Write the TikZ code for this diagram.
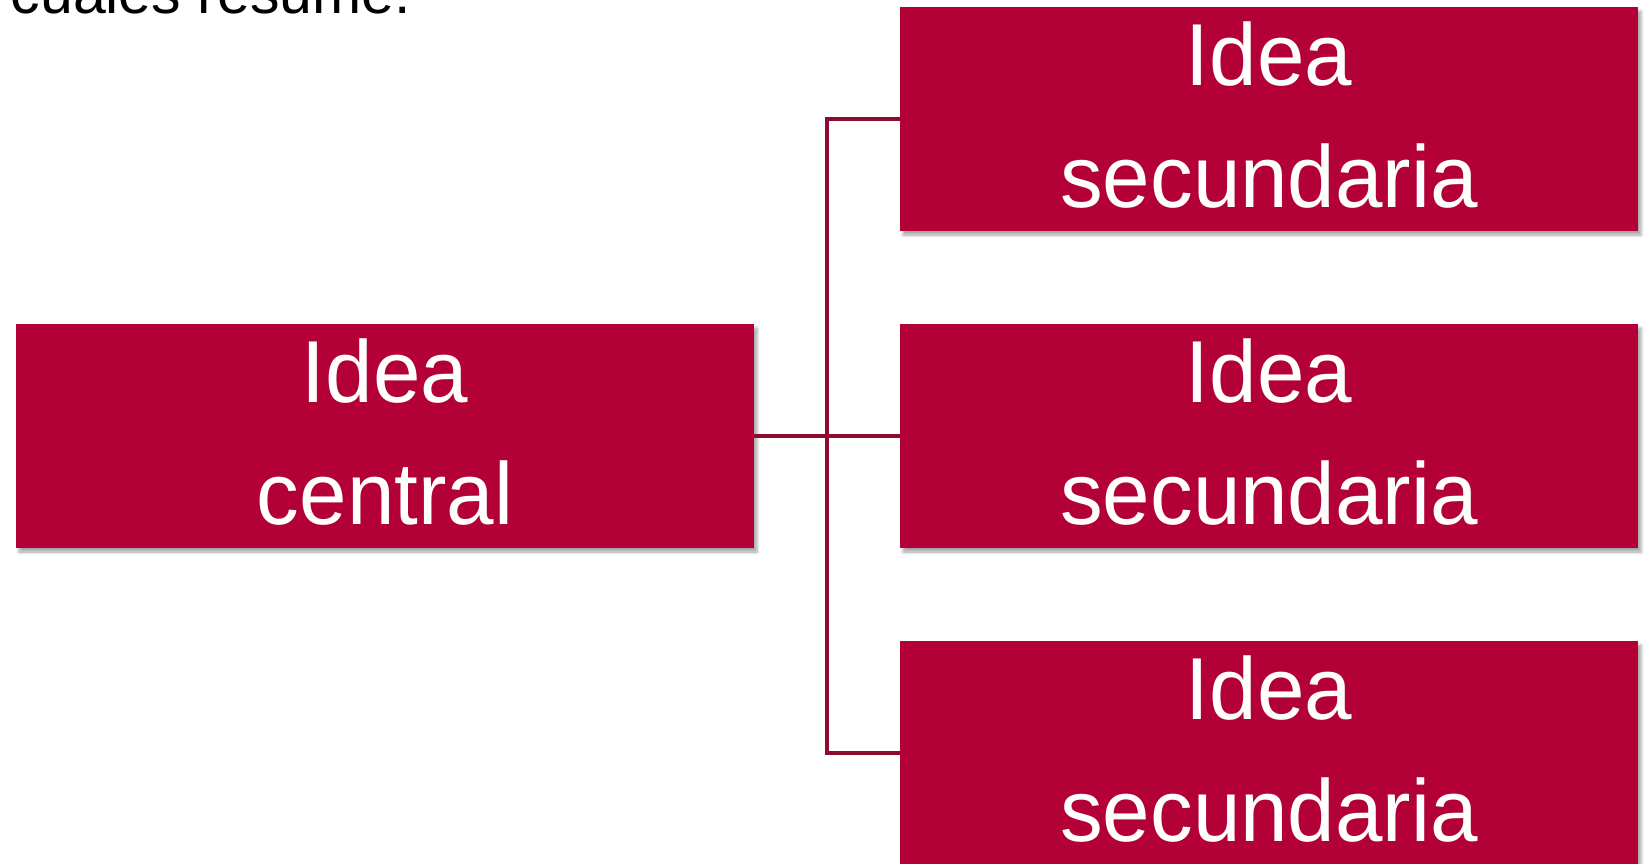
\documentclass[tikz,border=0pt]{standalone}
\usepackage{fontspec}
\setmainfont{Liberation Sans}
\newfontfamily\boxfont[FakeStretch=0.97]{Liberation Sans}
\usetikzlibrary{shadows.blur}
\definecolor{boxred}{HTML}{B30036}
\definecolor{linered}{HTML}{8E0A2F}
\tikzset{
  ideabox/.style={rectangle, fill=boxred, draw=none, minimum width=738pt, minimum height=224pt, inner sep=0pt,
    blur shadow={shadow xshift=3pt, shadow yshift=-4pt, shadow blur radius=3pt, shadow opacity=35}},
  ideatext/.style={text=white, align=center, inner sep=0pt, font=\boxfont\fontsize{88}{122}\selectfont},
  link/.style={draw=linered, line width=4pt, line join=miter}
}
\begin{document}
\begin{tikzpicture}[x=1pt,y=-1pt]
\useasboundingbox (0,0) rectangle (1647,863);
\clip (0,0) rectangle (1647,863);
\node[anchor=base west, inner sep=0pt, font=\fontsize{59}{70}\selectfont] (hdr) at (10.5,13.5) {cuales resume.};
\coordinate (j) at (827,436);
\node[ideabox] (c) at (385,436) {};
\node[ideabox] (t) at (1269,119) {};
\node[ideabox] (m) at (1269,436) {};
\node[ideabox] (b) at (1269,753) {};
\draw[link] (c.east) -- (j);
\draw[link] (j) |- (t.west);
\draw[link] (j) -- (m.west);
\draw[link] (j) |- (b.west);
\node[ideatext] (ct) at ([yshift=3.5pt]c.center) {Idea\\central};
\node[ideatext] (tt) at ([yshift=3.5pt]t.center) {Idea\\secundaria};
\node[ideatext] (mt) at ([yshift=3.5pt]m.center) {Idea\\secundaria};
\node[ideatext] (bt) at ([yshift=3.5pt]b.center) {Idea\\secundaria};
\end{tikzpicture}
\end{document}
